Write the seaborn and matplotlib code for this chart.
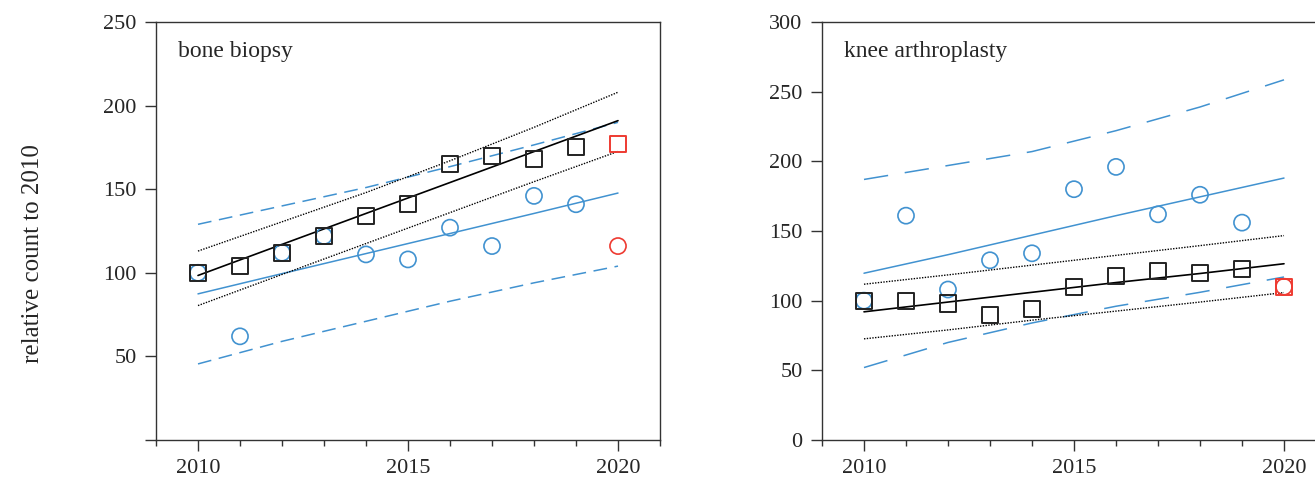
import numpy as np
import pandas as pd
import seaborn as sns
import matplotlib.pyplot as plt
from matplotlib.ticker import MultipleLocator

# observed years and values (relative to 2010)
years = [2010, 2011, 2012, 2013, 2014, 2015, 2016, 2017, 2018, 2019]
year_new = [2020]

bone_sq = [100, 104, 112, 122, 134, 141, 165, 170, 168, 175]
bone_ci = [100, 62, 112, 122, 111, 108, 127, 116, 146, 141]
bone_sq_new = [177]
bone_ci_new = [116]

knee_sq = [100, 100, 98, 90, 94, 110, 118, 121, 120, 123]
knee_ci = [100, 161, 108, 129, 134, 180, 196, 162, 176, 156]
knee_sq_new = [110]
knee_ci_new = [110]

# fitted lines and bands
yrs_fit = [2010, 2012, 2014, 2016, 2018, 2020]

bone_fit_blk = [98.4, 117, 135.5, 154, 172.5, 191]
bone_up_blk = [113, 130.5, 148, 167, 187, 208]
bone_lo_blk = [80.4, 99, 117.5, 136, 154.5, 172.6]
bone_fit_blu = [87.4, 99.5, 111.5, 123.5, 135.5, 147.7]
bone_up_blu = [129, 140, 151, 163.5, 176.5, 190]
bone_lo_blu = [45.5, 59, 71, 83, 94, 104]

knee_fit_blk = [92, 99, 106, 113, 119.5, 126.5]
knee_up_blk = [111.8, 118.5, 125.5, 132.5, 139.5, 146.7]
knee_lo_blk = [72.6, 79, 86, 92.5, 99, 105.8]
knee_fit_blu = [119.7, 133, 147, 161, 174.5, 188]
knee_up_blu = [187, 197, 207, 222, 239, 258.5]
knee_lo_blu = [52, 70, 84, 96, 106, 117]

BLUE = '#4192d0'
RED = '#ee3a31'
DARK = '#222222'

sns.set_style('ticks')
plt.rcParams['font.family'] = ['Liberation Serif', 'DejaVu Serif']
plt.rcParams['axes.edgecolor'] = '#333333'
plt.rcParams['axes.linewidth'] = 1.0

fig = plt.figure(figsize=(13.15, 4.79), dpi=100)
ax1 = fig.add_axes([156/1315, 39/479, 504/1315, 418/479])
ax2 = fig.add_axes([822/1315, 39/479, 504/1315, 418/479])


def panel(ax, sq, ci, sq_new, ci_new, fit_blk, up_blk, lo_blk, fit_blu, up_blu, lo_blu,
          dash, title, ymax, yticks, ylabels):
    # blue model with prediction band
    sns.lineplot(x=yrs_fit, y=up_blu, color=BLUE, lw=1.1, linestyle=(0, dash), ax=ax)
    sns.lineplot(x=yrs_fit, y=lo_blu, color=BLUE, lw=1.1, linestyle=(0, dash), ax=ax)
    sns.lineplot(x=yrs_fit, y=fit_blu, color=BLUE, lw=1.1, ax=ax)
    # black model with confidence band
    sns.lineplot(x=yrs_fit, y=up_blk, color='black', lw=1.0, linestyle=(0, (1, 1)), ax=ax)
    sns.lineplot(x=yrs_fit, y=lo_blk, color='black', lw=1.0, linestyle=(0, (1, 1)), ax=ax)
    sns.lineplot(x=yrs_fit, y=fit_blk, color='black', lw=1.2, ax=ax)
    # points
    sns.scatterplot(x=years, y=ci, marker='o', s=135, facecolor='none',
                    edgecolor=BLUE, linewidth=1.2, ax=ax, zorder=3)
    sns.scatterplot(x=years, y=sq, marker='s', s=135, facecolor='none',
                    edgecolor=DARK, linewidth=1.4, ax=ax, zorder=4)
    sns.scatterplot(x=year_new, y=ci_new, marker='o', s=135, facecolor='none',
                    edgecolor=RED, linewidth=1.2, ax=ax, zorder=3)
    sns.scatterplot(x=year_new, y=sq_new, marker='s', s=135, facecolor='none',
                    edgecolor=RED, linewidth=1.4, ax=ax, zorder=4)
    ax.set_xlim(2009, 2021)
    ax.set_ylim(0, ymax)
    ax.set_xticks([2010, 2015, 2020])
    ax.xaxis.set_minor_locator(MultipleLocator(1))
    ax.set_yticks(yticks)
    ax.set_yticklabels(ylabels)
    ax.tick_params(which='major', length=8, width=1, pad=6, labelsize=16, color='#333333')
    ax.tick_params(which='minor', axis='x', length=4, width=1, color='#333333')
    ax.set_xlabel('')
    ax.set_ylabel('')
    ax.text(0.044, 0.955, title, transform=ax.transAxes, ha='left', va='top', fontsize=17)
    for s in ax.spines.values():
        s.set_visible(True)


panel(ax1, bone_sq, bone_ci, bone_sq_new, bone_ci_new,
      bone_fit_blk, bone_up_blk, bone_lo_blk, bone_fit_blu, bone_up_blu, bone_lo_blu,
      (9, 5), 'bone biopsy', 250, [0, 50, 100, 150, 200, 250], ['', '50', '100', '150', '200', '250'])
panel(ax2, knee_sq, knee_ci, knee_sq_new, knee_ci_new,
      knee_fit_blk, knee_up_blk, knee_lo_blk, knee_fit_blu, knee_up_blu, knee_lo_blu,
      (16, 11), 'knee arthroplasty', 300, [0, 50, 100, 150, 200, 250, 300],
      ['0', '50', '100', '150', '200', '250', '300'])

fig.text(33/1315, 1 - 254/479, 'relative count to 2010', rotation=90,
         ha='center', va='center', fontsize=18)

fig.savefig('out.png', dpi=100)
